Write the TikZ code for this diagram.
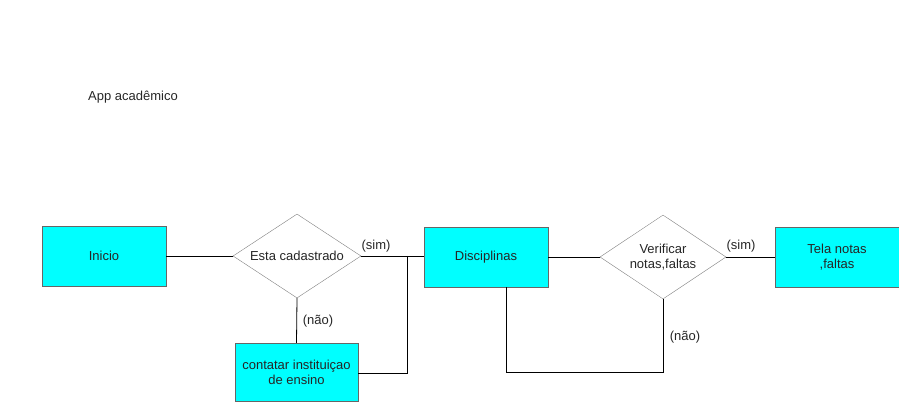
\documentclass[tikz,border=0pt]{standalone}
\usepackage{fontspec}
\setmainfont{Liberation Sans}
\usetikzlibrary{shapes.geometric}
\definecolor{boxfill}{HTML}{00FFFF}
\begin{document}
\begin{tikzpicture}[x=1pt,y=-1pt,
  every node/.style={font=\fontsize{13}{15}\selectfont, text=black!85},
  box/.style={draw=gray!80!black, fill=boxfill, minimum width=124pt, minimum height=60pt, align=center, inner sep=0pt},
  dia/.style={draw=gray, fill=white, diamond, aspect=1.5, minimum width=128pt, minimum height=84pt, align=center, inner sep=0pt},
  conn/.style={draw=black, line width=0.8pt},
  lbl/.style={inner sep=0pt}]
\useasboundingbox (0,0) rectangle (899,403);
\node[lbl] (title) at (133,97) {App acadêmico};
\node[box] (inicio) at (104,256) {Inicio};
\node[dia, minimum width=128pt] (d1) at (297,256) {Esta cadastrado};
\node[box, minimum width=123pt, minimum height=58pt] (cont) at (296.5,372) {contatar instituiçao\\de ensino};
\node[box] (disc) at (486,257) {Disciplinas};
\node[dia, minimum width=126pt] (d2) at (663,257) {Verificar\\notas,faltas};
\node[box, minimum width=124pt] (tela) at (837,257) {Tela notas\\,faltas};
\coordinate (j1) at (407,256);
\coordinate (j2) at (407,373);
\coordinate (l1) at (506,372);
\coordinate (l2) at (663,372);
\draw[conn] (inicio.east) -- (d1.west);
\draw[conn] (d1.east) -- (disc.west |- d1.east);
\draw[conn] (j1) -- (j2) -- (cont.east |- j2);
\draw[conn] (d1.south) -- (cont.north);
\draw[conn] (disc.east) -- (d2.west);
\draw[conn] (d2.east) -- (tela.west);
\draw[conn] (disc.south -| l1) -- (l1) -- (l2) -- (d2.south);
\node[lbl] (s1) at (376,246) {(sim)};
\node[lbl] (n1) at (318,321) {(não)};
\node[lbl] (s2) at (741,246) {(sim)};
\node[lbl] (n2) at (685,337) {(não)};
\end{tikzpicture}
\end{document}
